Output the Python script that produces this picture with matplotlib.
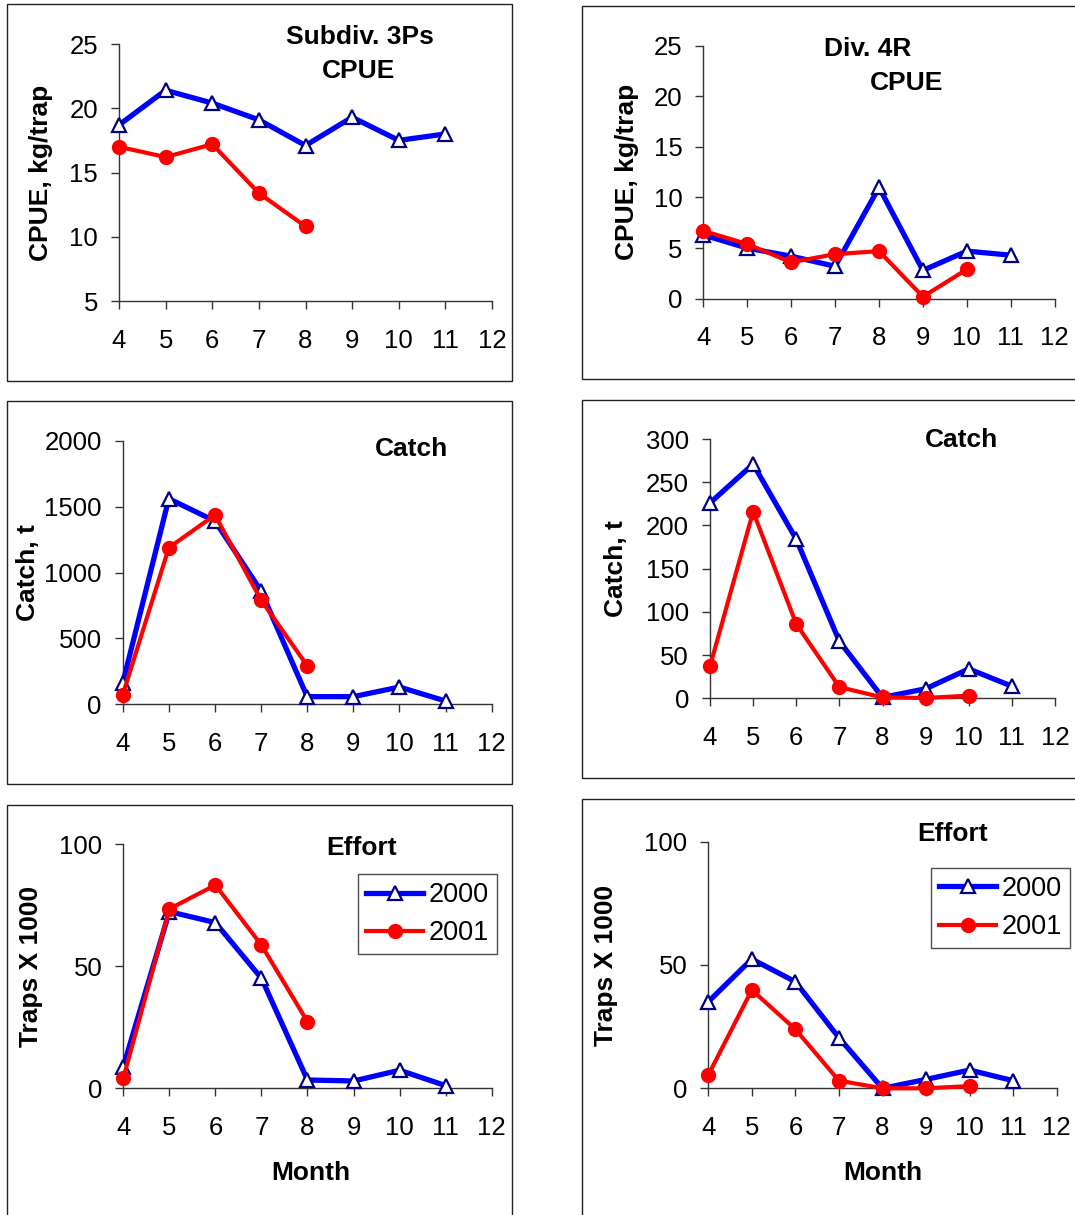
import matplotlib
matplotlib.use('Agg')
import matplotlib.pyplot as plt
from matplotlib.patches import Rectangle

plt.rcParams['font.family'] = ['Liberation Sans', 'DejaVu Sans']

# Meses
meses_2000 = [4, 5, 6, 7, 8, 9, 10, 11]
meses_2001_3ps = [4, 5, 6, 7, 8]
meses_2001_4r = [4, 5, 6, 7, 8, 9, 10]
meses_ticks = [4, 5, 6, 7, 8, 9, 10, 11, 12]

# CPUE, kg/trap
cpue_3ps_2000 = [18.7, 21.4, 20.4, 19.1, 17.1, 19.3, 17.5, 18.0]
cpue_3ps_2001 = [17.0, 16.2, 17.2, 13.4, 10.8]
cpue_4r_2000 = [6.3, 5.0, 4.2, 3.2, 11.0, 2.8, 4.7, 4.3]
cpue_4r_2001 = [6.7, 5.4, 3.6, 4.4, 4.7, 0.2, 2.9]

# Catch, t
catch_3ps_2000 = [160, 1560, 1390, 860, 58, 58, 131, 25]
catch_3ps_2001 = [71, 1188, 1436, 791, 293]
catch_4r_2000 = [226, 271, 184, 66, 1, 11, 34, 14]
catch_4r_2001 = [37, 216, 86, 13, 1, 0.4, 3]

# Effort, traps x 1000
effort_3ps_2000 = [8.9, 72.4, 67.9, 45.1, 3.4, 3.0, 7.4, 1.1]
effort_3ps_2001 = [4.1, 73.5, 83.3, 58.7, 27.3]
effort_4r_2000 = [35.1, 52.4, 43.2, 20.5, 0, 3.6, 7.4, 3.1]
effort_4r_2001 = [5.4, 39.9, 23.9, 3.1, 0, 0, 0.9]

W, H = 1075, 1215
fig = plt.figure(figsize=(W / 100, H / 100), dpi=100)

TXT = 19      # titulos y etiquetas (negrita)
TICKS = 18.5  # numeros de los ejes
LEG = 19.5    # leyenda


def fx(px):
    return px / W


def fy(py):
    return 1 - py / H


def caja(x0, y0, x1, y1):
    # marco de cada grafico (coordenadas en pixeles)
    fig.patches.append(Rectangle((fx(x0), fy(y1)), fx(x1 - x0), (y1 - y0) / H,
                                 transform=fig.transFigure, fill=False,
                                 edgecolor='#222222', linewidth=1.0))


def texto(x, y, s, ha='center'):
    fig.text(fx(x), fy(y), s, ha=ha, va='center', fontsize=TXT, fontweight='bold')


def panel(x0, y0, x1, y1, ylim, yticks, v2000, m2001, v2001, ylabel, ylab_x):
    ax = fig.add_axes([fx(x0), fy(y1), fx(x1 - x0), (y1 - y0) / H])
    ax.plot(meses_2000, v2000, color='#0000FF', linewidth=3.8, marker='^',
            markersize=10.5, markerfacecolor='white', markeredgecolor='#000080',
            markeredgewidth=1.6, clip_on=False, label='2000', zorder=3)
    ax.plot(m2001, v2001, color='#FF0000', linewidth=3.0, marker='o',
            markersize=10, markerfacecolor='#FF0000', markeredgecolor='#FF0000',
            clip_on=False, label='2001', zorder=4)
    ax.set_xlim(4, 12)
    ax.set_ylim(*ylim)
    ax.set_xticks(meses_ticks)
    ax.set_yticks(yticks)
    for s in ['top', 'right']:
        ax.spines[s].set_visible(False)
    for s in ['left', 'bottom']:
        ax.spines[s].set_color('#333333')
        ax.spines[s].set_linewidth(1.0)
    ax.tick_params(axis='both', direction='out', length=6, width=1.0,
                   color='#333333', labelsize=TICKS)
    ax.tick_params(axis='x', pad=14)
    ax.tick_params(axis='y', pad=9)
    ax.patch.set_alpha(0)
    fig.text(fx(ylab_x), fy((y0 + y1) / 2), ylabel, rotation=90,
             ha='center', va='center', fontsize=TXT, fontweight='bold')
    return ax


# --- 3Ps CPUE ---
caja(6.7, 4, 511.7, 380.7)
panel(119, 44, 492, 301, (5, 25), [5, 10, 15, 20, 25],
      cpue_3ps_2000, meses_2001_3ps, cpue_3ps_2001, 'CPUE, kg/trap', 41)
texto(360, 37, 'Subdiv. 3Ps')
texto(359, 71, 'CPUE')

# --- 4R CPUE ---
caja(581.7, 5.7, 1090, 379)
panel(703.3, 45.7, 1054.7, 298.7, (0, 25), [0, 5, 10, 15, 20, 25],
      cpue_4r_2000, meses_2001_4r, cpue_4r_2001, 'CPUE, kg/trap', 627)
texto(824, 49, 'Div. 4R', ha='left')
texto(870, 83, 'CPUE', ha='left')

# --- 3Ps Catch ---
caja(6.7, 401, 511.7, 784)
panel(122.7, 440.7, 491.7, 704.3, (0, 2000), [0, 500, 1000, 1500, 2000],
      catch_3ps_2000, meses_2001_3ps, catch_3ps_2001, 'Catch, t', 28)
texto(411.5, 449, 'Catch')

# --- 4R Catch ---
caja(581.7, 399.7, 1090, 778.3)
panel(710, 439, 1055, 698.3, (0, 300), [0, 50, 100, 150, 200, 250, 300],
      catch_4r_2000, meses_2001_4r, catch_4r_2001, 'Catch, t', 616)
texto(961.5, 440, 'Catch')

# --- 3Ps Effort ---
caja(6.7, 805, 511.7, 1230)
ax5 = panel(123.3, 844.3, 491.7, 1088.3, (0, 100), [0, 50, 100],
            effort_3ps_2000, meses_2001_3ps, effort_3ps_2001, 'Traps X 1000', 31)
texto(362, 848, 'Effort')
texto(311, 1173, 'Month')

# --- 4R Effort ---
caja(581.7, 799, 1090, 1230)
ax6 = panel(708.3, 841.7, 1056.7, 1088.3, (0, 100), [0, 50, 100],
            effort_4r_2000, meses_2001_4r, effort_4r_2001, 'Traps X 1000', 606)
texto(953, 834, 'Effort')
texto(883, 1173, 'Month')

# leyendas
for ax, (lx, ly) in [(ax5, (358, 874)), (ax6, (931, 867.7))]:
    leg = ax.legend(loc='upper left', bbox_to_anchor=(fx(lx), fy(ly)),
                    bbox_transform=fig.transFigure, borderaxespad=0,
                    fontsize=LEG, frameon=True, fancybox=False,
                    handlelength=2.1, handletextpad=0.2, borderpad=0.3,
                    labelspacing=0.45)
    leg.get_frame().set_edgecolor('#222222')
    leg.get_frame().set_linewidth(1.0)

fig.savefig('out.png', dpi=100)
